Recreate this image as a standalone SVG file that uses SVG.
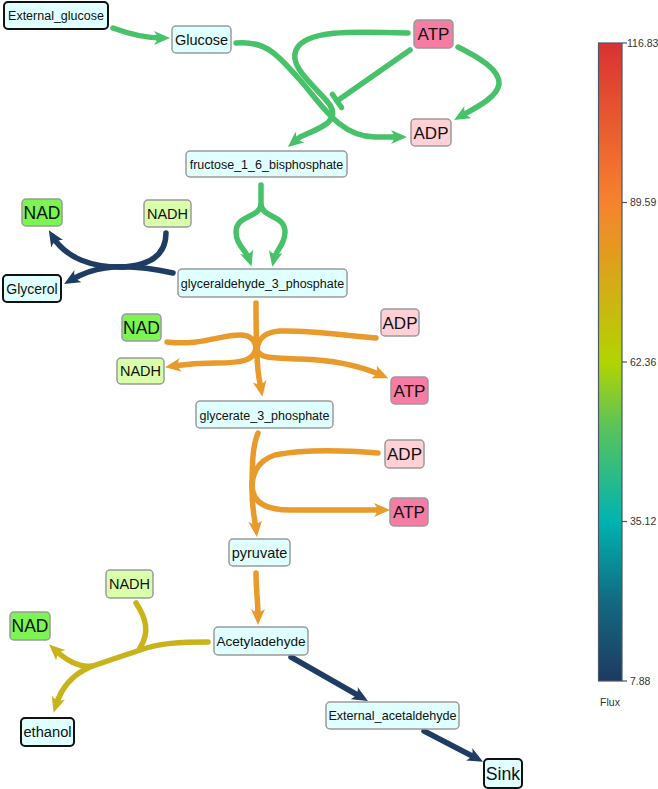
<svg xmlns="http://www.w3.org/2000/svg" width="658" height="789" viewBox="0 0 658 789">
<style>
.n rect{fill:#e0ffff;stroke:#9a9a9a;stroke-width:1.5}
.n.b rect{stroke:#111;stroke-width:2}
.n text{font-family:"Liberation Sans",Arial,sans-serif;text-anchor:middle;fill:#111}
.e path{fill:none;stroke-width:5.5;stroke-linecap:round;stroke-linejoin:round}
.g{stroke:#48c26a}
.o{stroke:#e89a2a}
.y{stroke:#c9b31b}
.v{stroke:#1f3d63}
.tk{font-family:"Liberation Sans",Arial,sans-serif;font-size:10.5px;fill:#333}
</style>
<defs>
<marker id="ag" markerUnits="userSpaceOnUse" viewBox="0 0 16 14" markerWidth="16" markerHeight="14" refX="8" refY="7" orient="auto"><path d="M16,7 L0,0 Q6,7 0,14 Z" fill="#48c26a"/></marker>
<marker id="ao" markerUnits="userSpaceOnUse" viewBox="0 0 16 14" markerWidth="16" markerHeight="14" refX="8" refY="7" orient="auto"><path d="M16,7 L0,0 Q6,7 0,14 Z" fill="#e89a2a"/></marker>
<marker id="ay" markerUnits="userSpaceOnUse" viewBox="0 0 16 14" markerWidth="16" markerHeight="14" refX="8" refY="7" orient="auto"><path d="M16,7 L0,0 Q6,7 0,14 Z" fill="#c9b31b"/></marker>
<marker id="av" markerUnits="userSpaceOnUse" viewBox="0 0 16 14" markerWidth="16" markerHeight="14" refX="8" refY="7" orient="auto"><path d="M16,7 L0,0 Q6,7 0,14 Z" fill="#1f3d63"/></marker>
<linearGradient id="cb" x1="0" y1="0" x2="0" y2="1">
<stop offset="0" stop-color="#d93232"/>
<stop offset="0.25" stop-color="#f7822e"/>
<stop offset="0.5" stop-color="#b2d400"/>
<stop offset="0.6" stop-color="#5cc35a"/>
<stop offset="0.75" stop-color="#00b3b0"/>
<stop offset="0.88" stop-color="#13677f"/>
<stop offset="1" stop-color="#1d3a62"/>
</linearGradient>
</defs>

<g id="edges" class="e">
<path class="g" d="M113,28 Q140,38 162,38" marker-end="url(#ag)"/>
<path class="g" d="M236,43 C268,40 280,58 300,80 C322,105 340,137 375,137 L399,137" marker-end="url(#ag)"/>
<path class="g" d="M408,33 C350,31 305,30 296,50 C288,68 318,88 330,105 C340,122 320,128 300,137 L294,142" marker-end="url(#ag)"/>
<path class="g" d="M410,50 L337,101"/>
<path class="g" d="M332.5,94.5 L341.5,107.5" stroke-linecap="butt"/>
<path class="g" d="M458,47 C480,58 500,70 499,84 C497,98 475,108 461,116" marker-end="url(#ag)"/>
<path class="g" d="M261,185 L261,207"/>
<path class="g" d="M261,205 C259,218 236,215 236,232 C236,245 246,250 249,259" marker-end="url(#ag)"/>
<path class="g" d="M261,205 C263,218 285,215 285,232 C285,245 276,250 274,259" marker-end="url(#ag)"/>

<path class="v" d="M173,273 C150,268 125,265 105,268 C90,270 78,276 71,280" marker-end="url(#av)"/>
<path class="v" d="M166,233 C166,255 150,266 120,267"/>
<path class="v" d="M125,267 C92,268 66,258 53,237" marker-end="url(#av)"/>

<path class="o" d="M256,303 C256,330 256,360 259,378 L261,389" marker-end="url(#ao)"/>
<path class="o" d="M167,342 C200,346 220,335 240,335 C250,335 256,340 256,350"/>
<path class="o" d="M376,338 C340,335 310,330 280,331 C265,332 258,338 257,350"/>
<path class="o" d="M256,348 C254,360 244,363 215,363 C195,363 180,365 173,366" marker-end="url(#ao)"/>
<path class="o" d="M257,350 C260,358 270,358 300,359 C340,360 365,368 381,375" marker-end="url(#ao)"/>

<path class="o" d="M258,433 C253,445 252,460 252,490 C252,510 255,520 256,529" marker-end="url(#ao)"/>
<path class="o" d="M378,453 C340,450 300,450 275,455 C260,460 253,470 252,485"/>
<path class="o" d="M252,485 C252,500 262,510 290,510 L382,510" marker-end="url(#ao)"/>

<path class="o" d="M256,573 C256,590 258,600 258,617" marker-end="url(#ao)"/>

<path class="y" d="M208,642 C180,642 160,643 140,650 C120,657 100,663 88,668 C75,674 62,686 56,705" marker-end="url(#ay)"/>
<path class="y" d="M136,603 C146,618 150,632 140,648"/>
<path class="y" d="M92,666 C78,668 66,660 55,650" marker-end="url(#ay)"/>

<path class="v" d="M291,657 L361,697" marker-end="url(#av)"/>
<path class="v" d="M424,731 L476,758" marker-end="url(#av)"/>
</g>

<g id="External_glucose" class="n b"><rect x="4" y="2" width="104" height="27" rx="4"/><text x="56" y="20" font-size="12.5">External_glucose</text></g>
<g id="Glucose" class="n"><rect x="172" y="26" width="59" height="27" rx="4"/><text x="201.5" y="45" font-size="14.5">Glucose</text></g>
<g id="ATP_1" class="n"><rect x="414" y="20" width="39" height="28" rx="4" style="fill:#f77ca3"/><text x="433.5" y="40" font-size="17">ATP</text></g>
<g id="ADP_1" class="n"><rect x="411" y="119" width="40" height="27" rx="4" style="fill:#ffd0d6"/><text x="431" y="139" font-size="17">ADP</text></g>
<g id="fructose_1_6_bisphosphate" class="n"><rect x="186" y="151" width="161" height="26" rx="4"/><text x="266.5" y="168.5" font-size="12.5">fructose_1_6_bisphosphate</text></g>
<g id="NAD_1" class="n"><rect x="22" y="199" width="40" height="27" rx="4" style="fill:#7cf552"/><text x="42" y="219" font-size="17.5">NAD</text></g>
<g id="NADH_1" class="n"><rect x="144" y="200" width="47" height="27" rx="4" style="fill:#d9ffaa"/><text x="167.5" y="219" font-size="14.5">NADH</text></g>
<g id="Glycerol" class="n b"><rect x="3" y="275" width="58" height="27" rx="4"/><text x="32" y="294" font-size="14">Glycerol</text></g>
<g id="glyceraldehyde_3_phosphate" class="n"><rect x="178" y="269" width="169" height="28" rx="4"/><text x="262.5" y="287.5" font-size="12.5">glyceraldehyde_3_phosphate</text></g>
<g id="NAD_2" class="n"><rect x="122" y="314" width="39" height="27" rx="4" style="fill:#7cf552"/><text x="141.5" y="334" font-size="17.5">NAD</text></g>
<g id="NADH_2" class="n"><rect x="117" y="358" width="47" height="26" rx="4" style="fill:#d9ffaa"/><text x="140.5" y="376" font-size="14.5">NADH</text></g>
<g id="ADP_2" class="n"><rect x="381" y="309" width="38" height="27" rx="4" style="fill:#ffd0d6"/><text x="400" y="329" font-size="17">ADP</text></g>
<g id="ATP_2" class="n"><rect x="391" y="377" width="37" height="27" rx="4" style="fill:#f77ca3"/><text x="409.5" y="397" font-size="17">ATP</text></g>
<g id="glycerate_3_phosphate" class="n"><rect x="196" y="401" width="137" height="27" rx="4"/><text x="264.5" y="419.5" font-size="12.5">glycerate_3_phosphate</text></g>
<g id="ADP_3" class="n"><rect x="385" y="440" width="39" height="28" rx="4" style="fill:#ffd0d6"/><text x="404.5" y="460" font-size="17">ADP</text></g>
<g id="ATP_3" class="n"><rect x="390" y="498" width="38" height="28" rx="4" style="fill:#f77ca3"/><text x="409" y="518" font-size="17">ATP</text></g>
<g id="pyruvate" class="n"><rect x="229" y="539" width="61" height="27" rx="4"/><text x="259.5" y="558" font-size="14.5">pyruvate</text></g>
<g id="NADH_3" class="n"><rect x="106" y="570" width="47" height="28" rx="4" style="fill:#d9ffaa"/><text x="129.5" y="589" font-size="14.5">NADH</text></g>
<g id="NAD_3" class="n"><rect x="10" y="612" width="40" height="28" rx="4" style="fill:#7cf552"/><text x="30" y="632" font-size="17.5">NAD</text></g>
<g id="Acetyladehyde" class="n"><rect x="214" y="627" width="94" height="28" rx="4"/><text x="261" y="646" font-size="13.6">Acetyladehyde</text></g>
<g id="ethanol" class="n b"><rect x="21" y="718" width="53" height="28" rx="4"/><text x="47.5" y="737" font-size="14.7">ethanol</text></g>
<g id="External_acetaldehyde" class="n"><rect x="326" y="702" width="133" height="27" rx="4"/><text x="392.5" y="720" font-size="12.6">External_acetaldehyde</text></g>
<g id="Sink" class="n b"><rect x="484" y="759" width="38" height="29" rx="4"/><text x="503" y="780" font-size="17.7">Sink</text></g>

<g id="colorbar">
<rect x="598.5" y="43" width="23.5" height="638" fill="url(#cb)" stroke="#4a5868" stroke-width="1.2"/>
<g stroke="#4a5868" stroke-width="1.2">
<line x1="622" y1="43" x2="627" y2="43"/>
<line x1="622" y1="202.5" x2="627" y2="202.5"/>
<line x1="622" y1="362" x2="627" y2="362"/>
<line x1="622" y1="521.5" x2="627" y2="521.5"/>
<line x1="622" y1="681" x2="627" y2="681"/>
</g>
<text class="tk" x="627" y="46.5">116.83</text>
<text class="tk" x="630" y="206">89.59</text>
<text class="tk" x="630" y="365.5">62.36</text>
<text class="tk" x="630" y="525">35.12</text>
<text class="tk" x="630" y="684.5">7.88</text>
<text class="tk" x="610" y="706" text-anchor="middle" font-size="11">Flux</text>
</g>
</svg>
